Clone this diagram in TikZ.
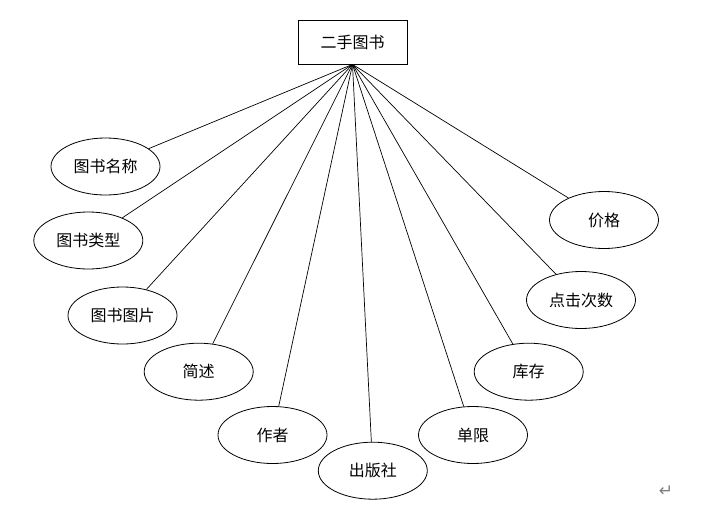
\documentclass[tikz,border=0pt]{standalone}
\usepackage{fontspec}
\newfontfamily\cjk{Noto Sans CJK SC}
\newfontfamily\dejavu{DejaVu Sans}
\usetikzlibrary{shapes.geometric}
\begin{document}
\begin{tikzpicture}[x=1pt,y=-1pt,
  attr/.style={ellipse, draw, line width=0.8pt, minimum width=109pt, minimum height=57pt, inner sep=0pt, font=\cjk\fontsize{16}{18}\selectfont},
  ent/.style={rectangle, draw, line width=0.8pt, minimum width=109pt, minimum height=44pt, inner sep=0pt, font=\cjk\fontsize{16}{18}\selectfont},
  link/.style={draw, line width=0.7pt}]
\useasboundingbox[fill=white] (0,0) rectangle (710,504);
\node[ent] (book) at (352.5,42) {二手图书};
\coordinate (apex) at (book.south);
\node[attr] (name) at (105.5,166.5) {图书名称};
\node[attr] (type) at (88.3,240.5) {图书类型};
\node[attr] (pic) at (122.5,315.5) {图书图片};
\node[attr] (desc) at (198.7,371.7) {简述};
\node[attr] (author) at (272.5,435) {作者};
\node[attr] (pub) at (372.8,470.7) {出版社};
\node[attr] (limit) at (473,435) {单限};
\node[attr] (stock) at (528.7,371.7) {库存};
\node[attr] (clicks) at (581,300) {点击次数};
\node[attr] (price) at (604,220) {价格};
\foreach \n in {name,type,pic,desc,author,pub,limit,stock,clicks,price}
  \draw[link] (apex) -- (\n);
\node[text=gray, font=\dejavu\fontsize{17}{17}\selectfont, inner sep=0pt] (ret) at (666,491) {↵};
\end{tikzpicture}
\end{document}
